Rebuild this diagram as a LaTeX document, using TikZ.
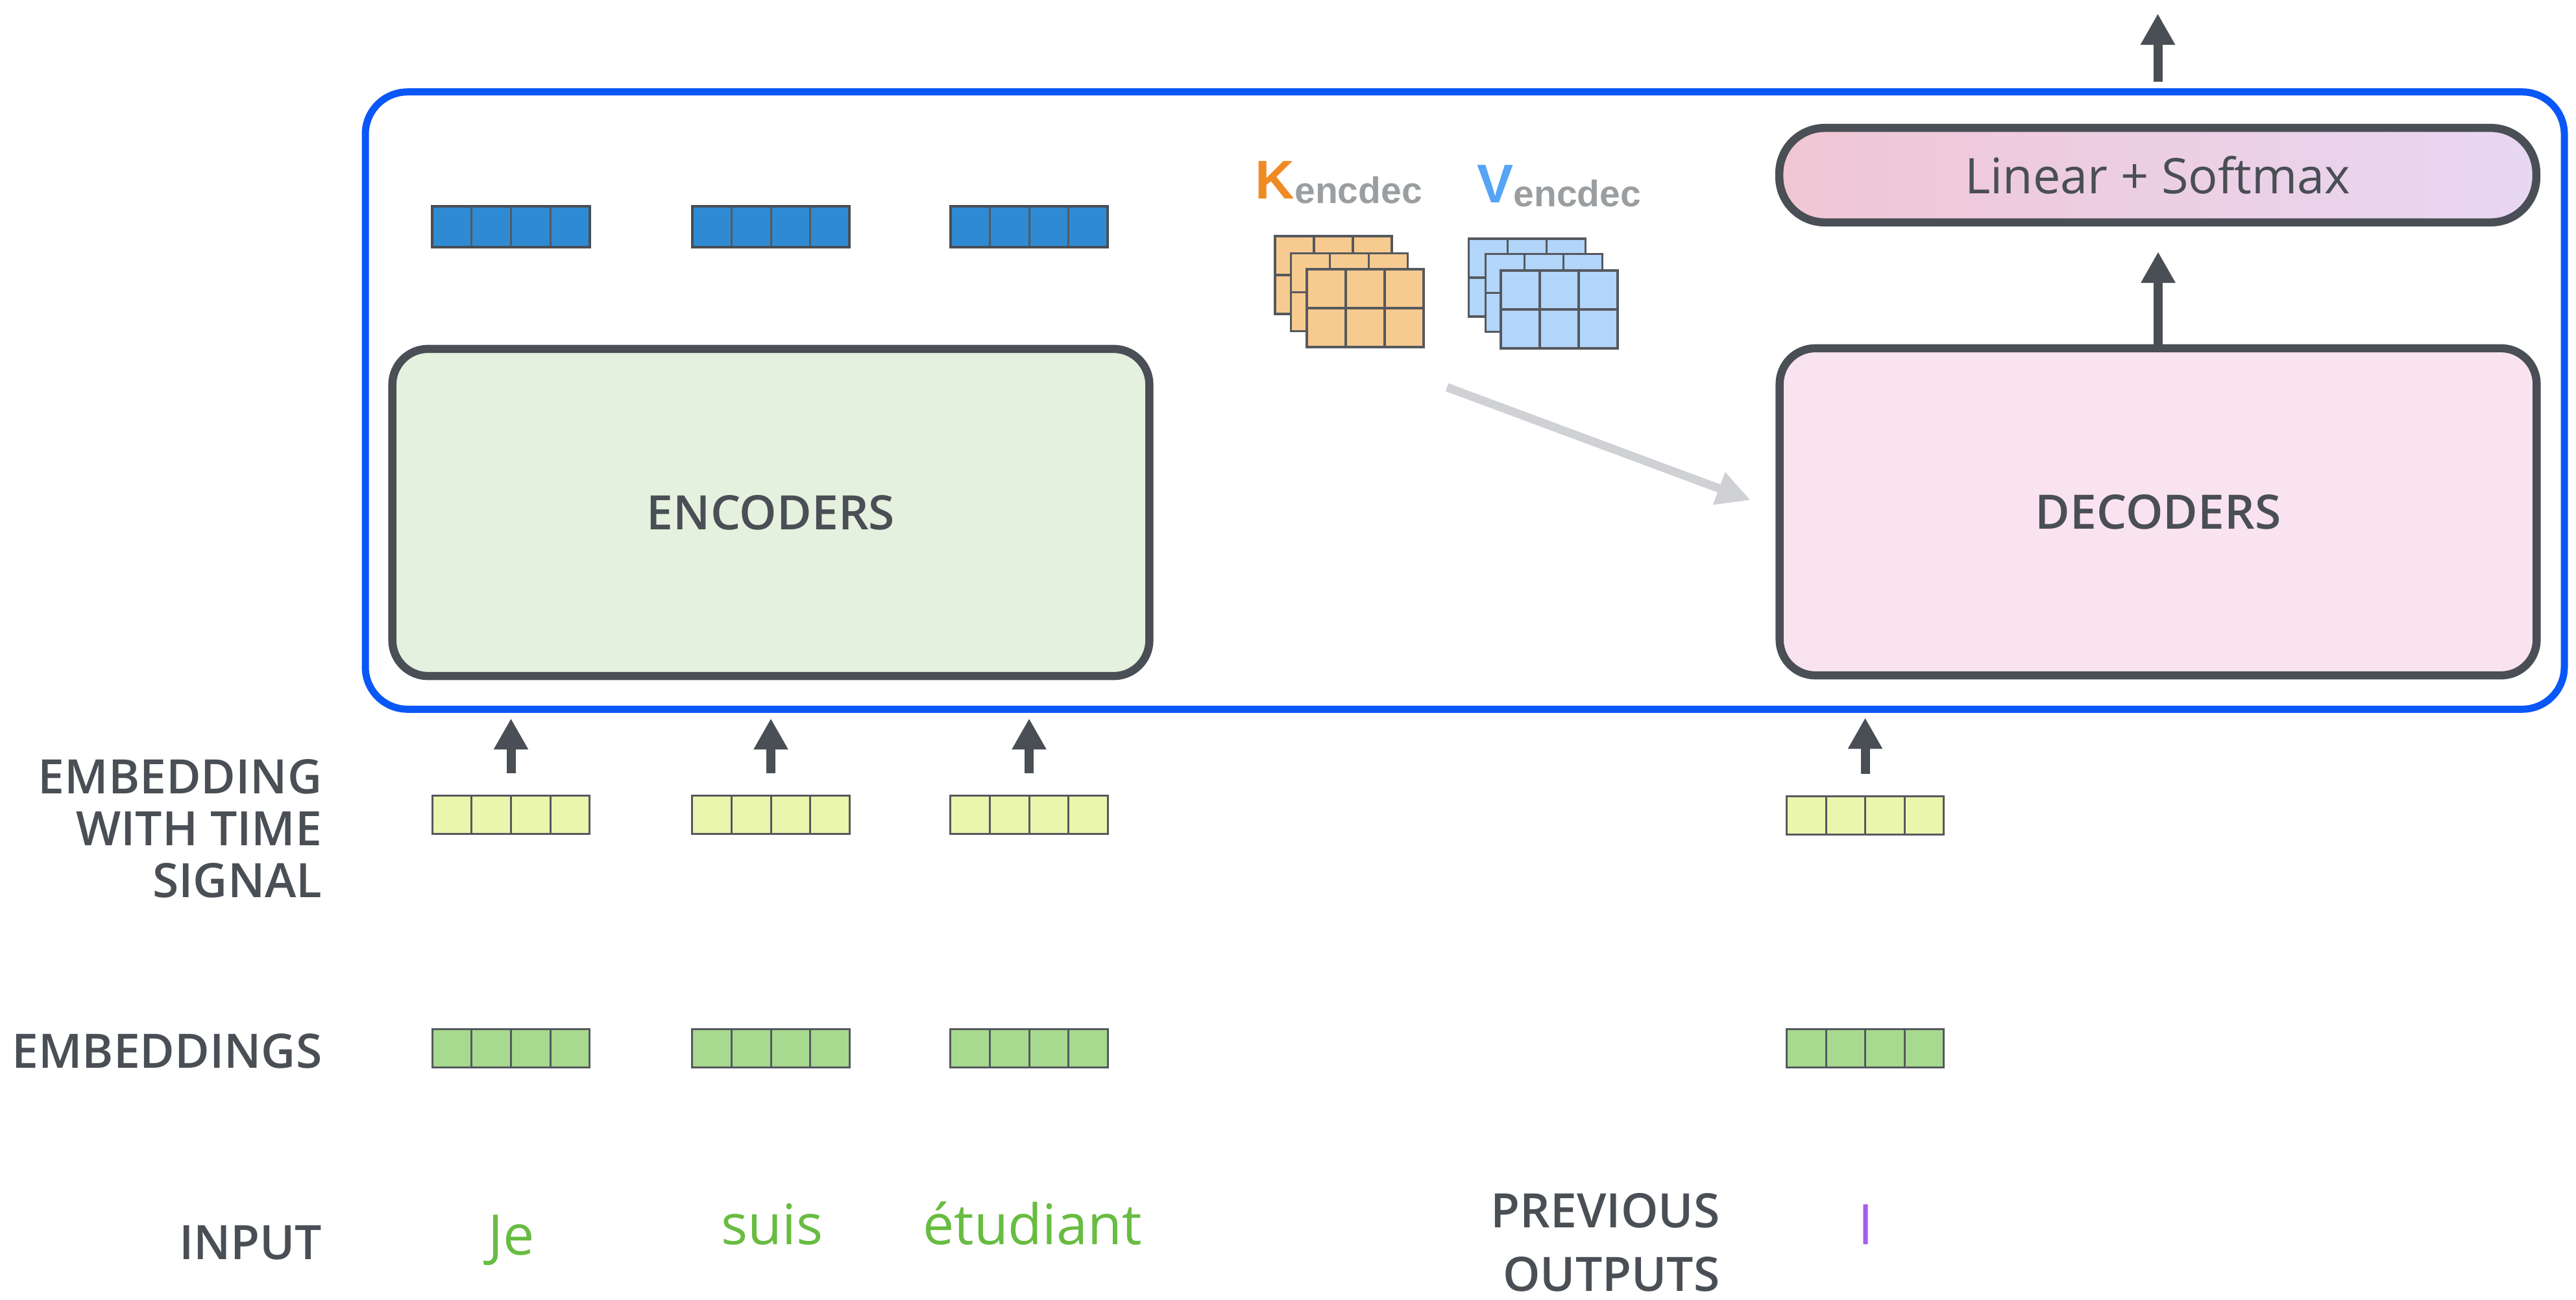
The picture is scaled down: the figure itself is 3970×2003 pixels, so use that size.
\documentclass[tikz,border=0pt]{standalone}
\usepackage{fontspec}
\setmainfont{Open Sans}
\newfontfamily\lblfont{Open Sans}[UprightFont={* Semibold}]
\newfontfamily\kvfont{Liberation Sans}
\usetikzlibrary{arrows.meta,calc}

\definecolor{ink}{HTML}{4A4E55}
\definecolor{frameblue}{HTML}{0A57F7}
\definecolor{encfill}{HTML}{E3F1DE}
\definecolor{decfill}{HTML}{F9E3EF}
\definecolor{linL}{HTML}{F0C6D4}
\definecolor{linR}{HTML}{E8D7F3}
\definecolor{outvec}{HTML}{2E8AD3}
\definecolor{timevec}{HTML}{E9F6AC}
\definecolor{embvec}{HTML}{A7D98F}
\definecolor{wordgreen}{HTML}{68BC41}
\definecolor{prevword}{HTML}{A55EEA}
\definecolor{kcol}{HTML}{F08A24}
\definecolor{vcol}{HTML}{55A4F5}
\definecolor{subgray}{HTML}{9B9EA0}
\definecolor{kfill}{HTML}{F7CA90}
\definecolor{vfill}{HTML}{B2D5FA}
\definecolor{flowgray}{HTML}{CFD1D4}
\definecolor{cellline}{HTML}{55595E}

\tikzset{
  % one unit = one pixel, y grows downwards
  vecbox/.style={draw=cellline, line width=0.03cm, minimum width=2.42cm,
    minimum height=0.59cm, inner sep=0pt,
    path picture={
      \foreach \k in {1,2,3}{
        \draw[cellline, line width=0.03cm]
          ($(path picture bounding box.south west)!\k/4!(path picture bounding box.south east)$) --
          ($(path picture bounding box.north west)!\k/4!(path picture bounding box.north east)$);
      }}},
  outbox/.style={vecbox, fill=outvec, draw=ink, line width=0.04cm, minimum height=0.62cm},
  timebox/.style={vecbox, fill=timevec},
  embbox/.style={vecbox, fill=embvec},
  layer/.style={draw=cellline, line width=0.035cm, minimum width=1.8cm,
    minimum height=1.2cm, inner sep=0pt,
    path picture={
      \foreach \k in {1,2}{
        \draw[cellline, line width=0.035cm]
          ($(path picture bounding box.south west)!\k/3!(path picture bounding box.south east)$) --
          ($(path picture bounding box.north west)!\k/3!(path picture bounding box.north east)$);
      }
      \draw[cellline, line width=0.035cm]
        ($(path picture bounding box.south west)!0.5!(path picture bounding box.north west)$) --
        ($(path picture bounding box.south east)!0.5!(path picture bounding box.north east)$);
    }},
  klayer/.style={layer, fill=kfill},
  vlayer/.style={layer, fill=vfill},
  stackbox/.style={draw=ink, line width=0.125cm, rounded corners=0.55cm,
    minimum width=11.66cm, minimum height=5.04cm, text=ink,
    font=\lblfont\fontsize{20.8}{24}\selectfont},
  arr/.style={draw=ink, line width=0.14cm,
    -{Triangle[length=0.48cm, width=0.5cm]}},
  flowarr/.style={draw=flowgray, line width=0.13cm,
    -{Triangle[length=0.52cm, width=0.5cm]}},
  lbl/.style={text=ink, inner sep=0pt, anchor=base east,
    font=\lblfont\fontsize{20.8}{24}\selectfont},
  word/.style={inner sep=0pt, anchor=base, font=\fontsize{24.5}{28}\selectfont},
}

\begin{document}
\begin{tikzpicture}[x=0.01cm, y=-0.01cm]
\path[use as bounding box] (0,0) rectangle (3970,2003);

% outer model frame
\node[draw=frameblue, line width=0.11cm, rounded corners=0.65cm,
  minimum width=33.87cm, minimum height=9.51cm] (frame) at (2257.5,617.5) {};

% encoder and decoder stacks
\node[stackbox, fill=encfill] (enc) at (1188,790) {ENCODERS};
\node[stackbox, fill=decfill] (dec) at (3326,789) {DECODERS};

% output layer
\node[draw=ink, line width=0.125cm, rounded corners=0.7cm,
  left color=linL, right color=linR,
  minimum width=11.66cm, minimum height=1.455cm, text=ink,
  font=\fontsize{21.5}{24}\selectfont] (lin) at (3325.5,270) {Linear + Softmax};

% encoder outputs
\node[outbox] (o1) at (787.5,349.5) {};
\node[outbox] (o2) at (1188,349.5) {};
\node[outbox] (o3) at (1586,349.5) {};

% key / value matrices
\node[anchor=base west, inner sep=0pt] (klabel) at (1934,307)
  {\kvfont\bfseries\fontsize{23.9}{26}\selectfont\color{kcol}K\color{subgray}\fontsize{16.2}{18}\selectfont\raisebox{-0.06cm}{encdec}};
\node[anchor=base west, inner sep=0pt] (vlabel) at (2276,312)
  {\kvfont\bfseries\fontsize{23.9}{26}\selectfont\color{vcol}V\color{subgray}\fontsize{16.2}{18}\selectfont\raisebox{-0.06cm}{encdec}};
\node[klayer] (kback) at (2055,424) {};
\node[klayer] (kmid) at (2079.5,450.5) {};
\node[klayer] (kfront) at (2104,475) {};
\node[vlayer] (vback) at (2353.5,428) {};
\node[vlayer] (vmid) at (2379.5,451.5) {};
\node[vlayer] (vfront) at (2403,477) {};

% keys and values flow into the decoders
\coordinate (kvsrc) at (2230,597);
\coordinate (kvdst) at (2698,771);
\draw[flowarr] (kvsrc) -- (kvdst);

% embeddings with time signal
\node[timebox] (t1) at (787.5,1256) {};
\node[timebox] (t2) at (1188,1256) {};
\node[timebox] (t3) at (1586,1256) {};
\node[timebox] (t4) at (2874.5,1257) {};

% plain embeddings
\node[embbox] (e1) at (787.5,1616) {};
\node[embbox] (e2) at (1188,1616) {};
\node[embbox] (e3) at (1586,1616) {};
\node[embbox] (e4) at (2874.5,1616) {};

% arrows into the stacks
\foreach \v in {t1,t2,t3}{
  \draw[arr, shorten <=0.33cm, shorten >=0.59cm] (\v.north) -- (\v.north |- enc.south);
}
\draw[arr, shorten <=0.33cm, shorten >=0.59cm] (t4.north) -- (t4.north |- dec.south);
\draw[arr, shorten >=0.39cm] (dec.north) -- (dec.north |- lin.south);
\coordinate (result) at (3326,21);
\draw[arr, shorten <=0.65cm] (lin.north) -- (lin.north |- result);

% row labels
\node[lbl] (lt1) at (497,1223) {EMBEDDING};
\node[lbl] (lt2) at (497,1303) {WITH TIME};
\node[lbl] (lt3) at (497,1383) {SIGNAL};
\node[lbl] (lemb) at (497,1646) {EMBEDDINGS};
\node[lbl] (linp) at (497,1941) {INPUT};
\node[lbl] (lprev1) at (2651,1892) {PREVIOUS};
\node[lbl] (lprev2) at (2651,1990) {OUTPUTS};

% input words
\node[word, text=wordgreen] (w1) at (788,1934) {Je};
\node[word, text=wordgreen] (w2) at (1190,1918) {suis};
\node[word, text=wordgreen] (w3) at (1591,1918) {étudiant};
\node[word, text=prevword] (w4) at (2875,1918) {I};
\end{tikzpicture}
\end{document}
